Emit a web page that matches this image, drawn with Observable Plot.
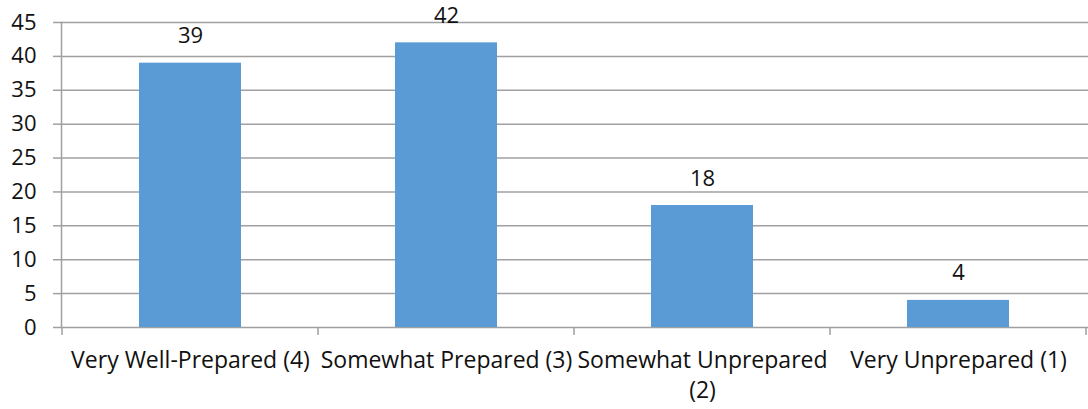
<!DOCTYPE html>
<html>
<head>
<meta charset="utf-8">
<script src="https://cdn.jsdelivr.net/npm/d3@7"></script>
<script src="https://cdn.jsdelivr.net/npm/@observablehq/plot@0.6"></script>
<style>
  html, body { margin: 0; padding: 0; background: #fff; }
  #chart svg { display: block; }
</style>
</head>
<body>
<div id="chart"></div>
<script>
const categories = ["Very Well-Prepared (4)", "Somewhat Prepared (3)", "Somewhat Unprepared (2)", "Very Unprepared (1)"];
const tickLabels = ["Very Well-Prepared (4)", "Somewhat Prepared (3)", "Somewhat Unprepared\n(2)", "Very Unprepared (1)"];
const values = [39, 42, 18, 4];
const yTicks = [0, 5, 10, 15, 20, 25, 30, 35, 40, 45];

const data = categories.map((c, i) => ({category: c, value: values[i]}));
const font = "'Open Sans', sans-serif";
const gridColor = "#a0a0a0";
const textColor = "#111";

// tick marks at the boundaries between category bands, derived from the band scale
function boundaryTicks(index, scales, values, dims) {
  const x = scales.x;
  const n = categories.length;
  const plotW = dims.width - dims.marginLeft - dims.marginRight;
  const step = (x && typeof x.step === "function") ? x.step() : plotW / n;
  const bw = (x && typeof x.bandwidth === "function") ? x.bandwidth() : step * 0.4;
  const y0 = scales.y(0);
  const g = d3.create("svg:g");
  const xs = categories.map(c => x(c) + bw / 2 - step / 2);
  xs.push(x(categories[n - 1]) + bw / 2 + step / 2);
  for (const px of xs) {
    g.append("line").attr("x1", px).attr("x2", px).attr("y1", y0).attr("y2", y0 + 8)
      .attr("stroke", gridColor).attr("stroke-width", 1.5);
  }
  return g.node();
}

const chart = Plot.plot({
  width: 1088,
  height: 409,
  marginLeft: 61,
  marginRight: 0,
  marginTop: 22,
  marginBottom: 82,
  style: {fontFamily: font, fontSize: "22px", color: textColor, background: "#fff"},
  x: {domain: categories, paddingInner: 0.6, paddingOuter: 0.3, label: null},
  y: {domain: [0, 45], label: null},
  marks: [
    Plot.ruleY(yTicks, {stroke: gridColor, strokeWidth: 1.5, strokeOpacity: 1}),
    Plot.axisY({ticks: yTicks, tickSize: 8, tickPadding: 17, stroke: gridColor, strokeWidth: 1.5, strokeOpacity: 1, fontSize: 22, fill: textColor, label: null}),
    Plot.axisX({tickSize: 0, tickPadding: 19, tickFormat: (d) => tickLabels[categories.indexOf(d)], fontSize: 23, fill: textColor, label: null, lineHeight: 1.3}),
    Plot.barY(data, {x: "category", y: "value", fill: "#5b9bd5"}),
    Plot.frame({anchor: "left", stroke: gridColor, strokeWidth: 1.5, strokeOpacity: 1}),
    Plot.text(data, {x: "category", y: "value", text: d => String(d.value), dy: -27, fontSize: 22, fill: textColor}),
    boundaryTicks
  ]
});
document.getElementById("chart").appendChild(chart);
</script>
</body>
</html>
